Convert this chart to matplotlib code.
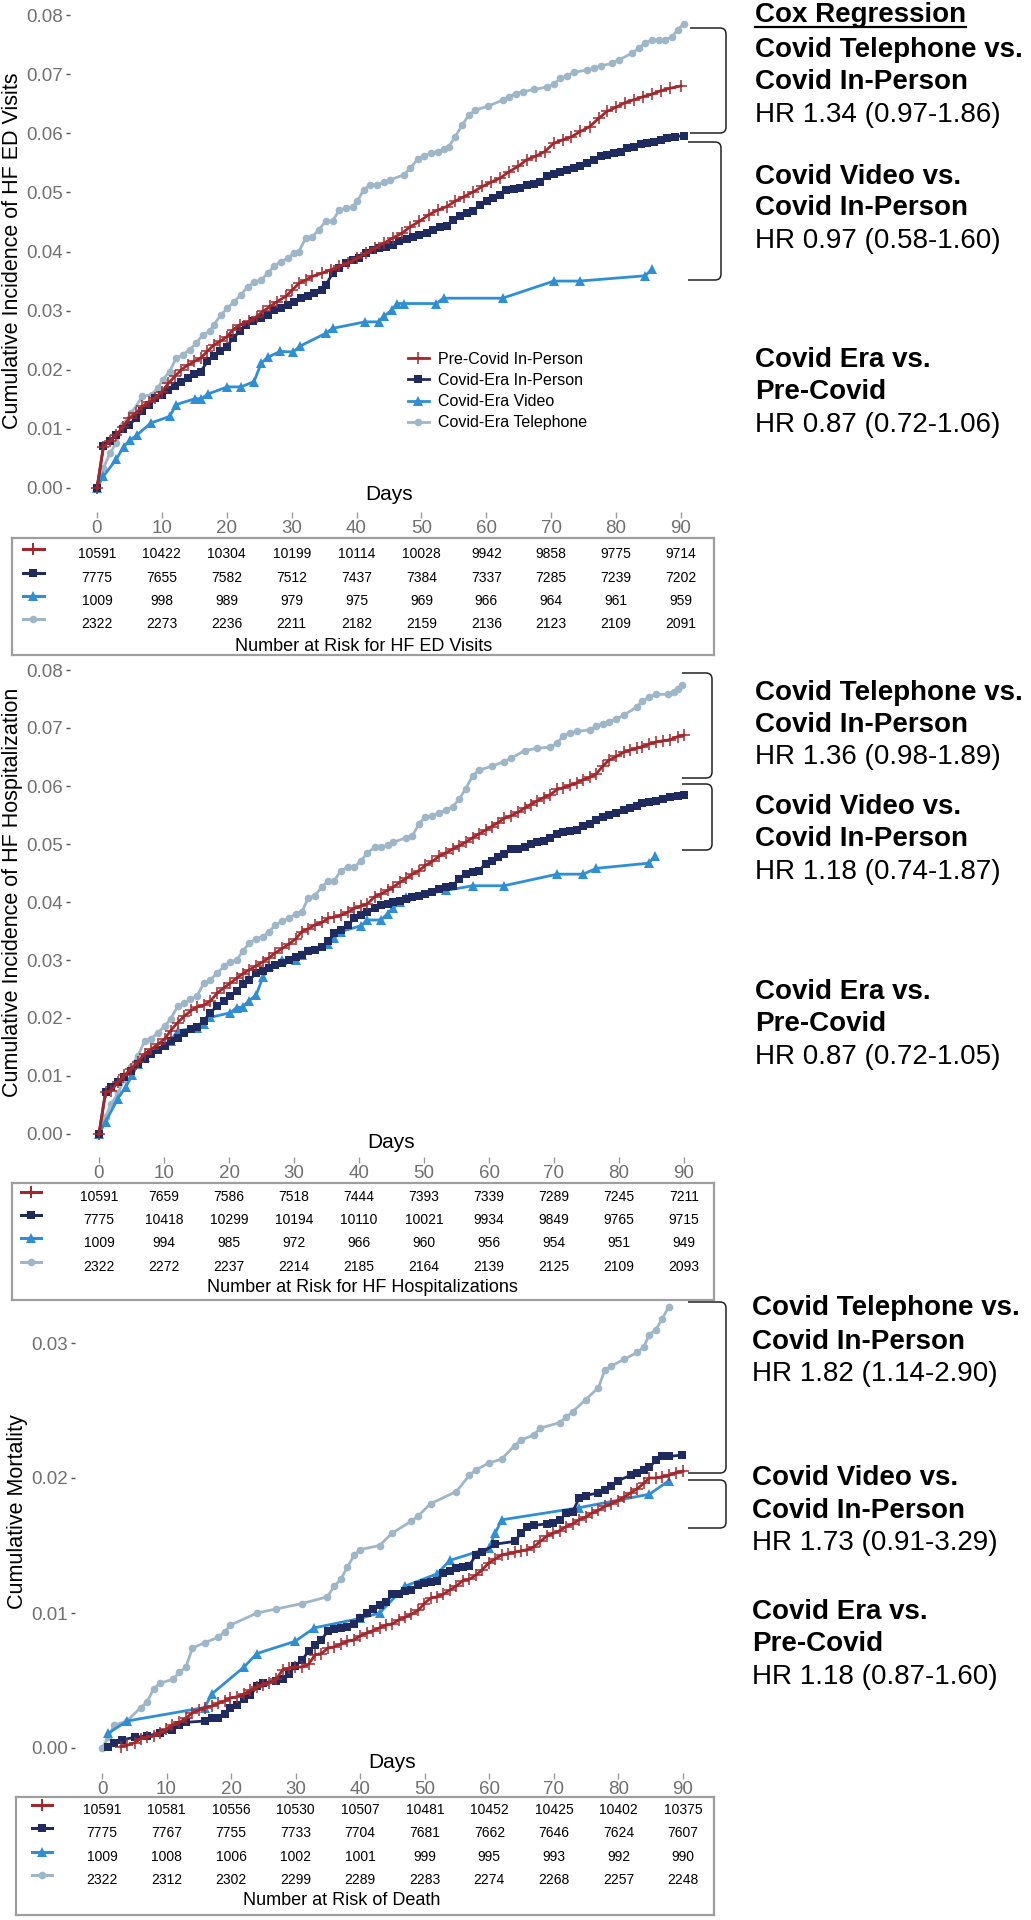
import matplotlib
matplotlib.use('Agg')
import matplotlib.pyplot as plt
from matplotlib.lines import Line2D
from matplotlib.path import Path
from matplotlib.patches import PathPatch

plt.rcParams['font.family'] = ['Liberation Sans', 'DejaVu Sans']

# ---------------- data (day, cumulative incidence) ----------------
# HF ED visits
ed_pre = [(0, 0), (1, .0070), (2, .0079), (3, .0090), (4, .0104), (5, .0118), (6, .0127), (7, .0138),
          (8, .0146), (9, .0152), (10, .0163), (11, .0177), (12, .0189), (13, .0200), (14, .0208),
          (15, .0214), (16, .0220), (17, .0231), (18, .0242), (19, .0248), (20, .0256), (21, .0268),
          (22, .0276), (23.5, .0282), (24.6, .0290), (25.6, .0299), (26.7, .0307), (27.7, .0315),
          (29.1, .0324), (30.1, .0335), (31.1, .0346), (32.2, .0352), (33.2, .0358), (34.6, .0363),
          (36, .0369), (37.3, .0375), (38.7, .0380), (40.1, .0389), (41.5, .0397), (42.8, .0406),
          (44.2, .0414), (45.6, .0423), (47, .0431), (48.3, .0442), (49.7, .0451), (51.1, .0462),
          (52.5, .0470), (53.9, .0476), (55.2, .0485), (56.6, .0493), (58, .0501), (59.4, .0510),
          (60.7, .0517), (62.1, .0524), (63.5, .0535), (64.9, .0544), (66.2, .0555), (67.6, .0561),
          (69, .0569), (70.4, .0583), (71.8, .0589), (73.1, .0594), (74.5, .0603), (75.9, .0611),
          (77.3, .0625), (78.6, .0637), (80, .0644), (81.4, .0652), (82.8, .0657), (84.2, .0662),
          (85.5, .0666), (86.9, .0672), (88.3, .0676), (90, .0680)]
ed_cip = [(0, 0), (1, .0071), (2, .0079), (3, .0090), (4, .0099), (5, .0107), (6, .0118), (7, .0130),
          (8, .0141), (9, .0152), (10, .0158), (11, .0166), (12, .0172), (13, .0180), (14, .0186),
          (15, .0192), (16, .0197), (17, .0214), (18, .0223), (19, .0231), (20, .0239), (21, .0254),
          (22, .0265), (23, .0276), (24, .0282), (25.3, .0287), (26.3, .0293), (27.3, .0301),
          (28.4, .0304), (29.4, .0310), (30.4, .0315), (31.5, .0321), (32.5, .0325), (33.5, .0330),
          (34.6, .0335), (35.3, .0344), (36.3, .0363), (37.3, .0372), (38.4, .0380), (39.4, .0386),
          (40.4, .0389), (41.5, .0397), (42.5, .0403), (43.5, .0406), (44.6, .0408), (45.6, .0411),
          (46.6, .0417), (47.7, .0421), (48.7, .0425), (49.7, .0428), (50.8, .0431), (51.8, .0437),
          (52.8, .0441), (53.9, .0443), (54.9, .0454), (55.9, .0460), (57, .0465), (58, .0469),
          (59, .0479), (60.1, .0485), (61.1, .0490), (62.1, .0496), (63.1, .0504), (64.2, .0506),
          (65.2, .0507), (66.2, .0513), (67.3, .0514), (68.3, .0518), (69.3, .0527), (70.4, .0531),
          (71.4, .0535), (72.4, .0538), (73.5, .0541), (74.5, .0545), (75.5, .0549), (76.6, .0555),
          (77.6, .0561), (78.6, .0563), (79.7, .0566), (80.7, .0569), (81.7, .0575), (82.8, .0577),
          (83.8, .0582), (84.8, .0584), (85.9, .0586), (86.9, .0589), (87.9, .0592), (89, .0594),
          (90.4, .0596)]
ed_video = [(0, 0), (1, .0020), (3, .0049), (4.1, .0070), (5.1, .0081), (6.2, .0090), (8.3, .0110),
            (11.2, .0121), (12.2, .0141), (15.1, .0151), (16.1, .0151), (17.1, .0159), (20.1, .0171),
            (22.2, .0171), (24.2, .0180), (25.3, .0211), (26.3, .0221), (28.2, .0231), (30.2, .0230),
            (31.3, .0240), (35.3, .0262), (36.3, .0270), (41.3, .0281), (43.4, .0281), (44.3, .0291),
            (45.4, .0301), (46.3, .0312), (47.3, .0312), (52.3, .0312), (53.4, .0321), (62.5, .0321),
            (70.4, .0350), (74.4, .0350), (84.5, .0359), (85.5, .0370)]
ed_tele = [(0, 0), (1, .0034), (2, .0059), (3, .0076), (4, .0107), (5.3, .0127), (7, .0155), (8.4, .0158),
           (9.4, .0169), (10.1, .0183), (11.2, .0197), (12.2, .0220), (13.2, .0225), (14.3, .0234),
           (15.3, .0245), (16.3, .0259), (17.4, .0265), (18, .0276), (19.1, .0293), (20.1, .0304),
           (21.1, .0315), (22.2, .0327), (23.2, .0340), (24.2, .0348), (25.3, .0352), (26.3, .0363),
           (27.3, .0375), (28.4, .0383), (29.4, .0389), (30.4, .0397), (31.1, .0400), (32.2, .0423),
           (33.2, .0425), (34.2, .0437), (35.3, .0452), (36.3, .0451), (37.3, .0470), (38.4, .0473),
           (39.4, .0476), (40.1, .0485), (41.1, .0504), (42.1, .0513), (43.2, .0513), (44.2, .0517),
           (45.2, .0521), (47.3, .0530), (48.3, .0541), (49.4, .0556), (50.4, .0562), (51.4, .0566),
           (52.5, .0569), (53.5, .0573), (54.2, .0577), (55.2, .0594), (56.3, .0614), (57.3, .0631),
           (58.3, .0639), (60.3, .0646), (62.5, .0656), (63.5, .0662), (64.5, .0667), (65.6, .0670),
           (67.3, .0674), (69.3, .0678), (70.4, .0683), (71.4, .0693), (72.4, .0697), (73.5, .0703),
           (75.5, .0707), (76.6, .0710), (77.6, .0714), (79.3, .0718), (80.4, .0724), (82.4, .0735),
           (83.5, .0744), (84.5, .0753), (85.5, .0758), (86.6, .0758), (87.6, .0758), (88.6, .0763),
           (89.5, .0775), (90.4, .0785)]

# HF hospitalization
hosp_pre = [(0, 0), (1, .0072), (1.9, .0075), (2.9, .0089), (3.9, .0101), (4.9, .0112), (6, .0124),
            (7, .0138), (8, .0146), (9.1, .0155), (10.1, .0164), (11, .0178), (12.1, .0192), (13.1, .0203),
            (14.2, .0213), (15.1, .0219), (16.1, .0222), (17.1, .0229), (18.2, .0243), (19.2, .0252),
            (20.2, .0260), (21.2, .0269), (22.1, .0276), (23.1, .0283), (24.2, .0290), (25.2, .0297),
            (26.2, .0304), (27.1, .0312), (28.2, .0320), (29.3, .0328), (30.3, .0337), (31.2, .0349),
            (32.2, .0354), (33.2, .0360), (34.3, .0365), (35.3, .0372), (36.2, .0374), (37.2, .0377),
            (38.3, .0383), (39.3, .0389), (40.3, .0393), (41.3, .0397), (42.4, .0409), (43.4, .0414),
            (44.4, .0420), (45.3, .0426), (46.3, .0434), (47.3, .0441), (48.2, .0448), (49.2, .0454),
            (50.2, .0463), (51.3, .0470), (52.3, .0479), (53.4, .0485), (54.4, .0491), (55.4, .0497),
            (56.4, .0503), (57.5, .0511), (58.4, .0517), (59.5, .0524), (60.4, .0530), (61.4, .0537),
            (62.3, .0544), (63.4, .0549), (64.5, .0555), (65.5, .0562), (66.4, .0568), (67.4, .0574),
            (68.4, .0580), (69.4, .0585), (70.5, .0594), (71.4, .0597), (72.5, .0601), (73.6, .0606),
            (74.5, .0611), (75.5, .0615), (76.5, .0621), (77.5, .0634), (78.4, .0644), (79.6, .0651),
            (80.7, .0658), (81.7, .0662), (82.7, .0665), (83.6, .0668), (84.6, .0672), (85.7, .0676),
            (86.8, .0678), (87.9, .0680), (89, .0685), (90, .0688)]
hosp_cip = [(0, 0), (1, .0072), (1.9, .0081), (2.9, .0089), (3.9, .0098), (4.9, .0108), (6, .0121),
            (7, .0129), (8, .0138), (9.1, .0144), (10.1, .0152), (11, .0161), (12.1, .0166), (13.1, .0175),
            (14.2, .0181), (15.1, .0185), (16.1, .0195), (17.1, .0209), (18.2, .0221), (19.2, .0229),
            (20.2, .0238), (21.2, .0246), (22.1, .0258), (23.1, .0266), (24.2, .0277), (25.2, .0281),
            (26.2, .0286), (27.1, .0292), (28.2, .0295), (29.3, .0300), (30.3, .0306), (31.2, .0309),
            (32.2, .0315), (33.2, .0317), (34.3, .0323), (35.3, .0332), (36.2, .0346), (37.2, .0352),
            (38.3, .0361), (39.3, .0372), (40.3, .0377), (41.3, .0383), (42.4, .0390), (43.4, .0394),
            (44.4, .0397), (45.3, .0400), (46.3, .0401), (47.3, .0406), (48.2, .0409), (49.2, .0411),
            (50.2, .0414), (51.3, .0417), (52.3, .0422), (53.4, .0426), (54.4, .0428), (55.4, .0440),
            (56.4, .0448), (57.5, .0451), (58.4, .0454), (59.5, .0466), (60.4, .0471), (61.4, .0477),
            (62.3, .0483), (63.4, .0491), (64.5, .0492), (65.5, .0494), (66.4, .0500), (67.4, .0503),
            (68.4, .0505), (69.4, .0511), (70.5, .0517), (71.4, .0520), (72.5, .0523), (73.6, .0525),
            (74.5, .0531), (75.5, .0534), (76.5, .0542), (77.5, .0547), (78.4, .0550), (79.6, .0554),
            (80.7, .0558), (81.7, .0562), (82.7, .0566), (83.6, .0570), (84.6, .0573), (85.7, .0575),
            (86.8, .0578), (87.9, .0581), (89, .0583), (90, .0585)]
hosp_video = [(0, 0), (1, .0021), (2.9, .0061), (4.1, .0081), (5.1, .0101), (6, .0121), (7, .0132),
              (11, .0161), (12.2, .0178), (15.1, .0183), (16.1, .0189), (17.1, .0201), (20.2, .0209),
              (21.2, .0218), (22.1, .0219), (23.1, .0230), (24.2, .0240), (25.2, .0270), (26.2, .0289),
              (28.2, .0300), (30.3, .0300), (31.2, .0309), (35.3, .0327), (36.2, .0338), (37.2, .0349),
              (40.3, .0359), (41.3, .0369), (43.4, .0369), (44.4, .0380), (45.3, .0390), (46.3, .0400),
              (47.3, .0409), (53.4, .0420), (57.5, .0428), (62.3, .0428), (70.5, .0448), (74.5, .0448),
              (76.5, .0458), (84.6, .0467), (85.6, .0480)]
hosp_tele = [(0, 0), (1, .0030), (1.9, .0052), (2.9, .0070), (3.9, .0095), (4.9, .0115), (6, .0135),
             (7, .0160), (8, .0164), (9.1, .0175), (10.1, .0186), (11, .0198), (12.1, .0220), (13.1, .0226),
             (14, .0232), (15.1, .0238), (16.1, .0260), (17.1, .0266), (18.2, .0277), (19.2, .0289),
             (20.2, .0297), (21.2, .0300), (22.1, .0315), (23.1, .0329), (24.2, .0337), (25.2, .0340),
             (26.2, .0349), (27.1, .0360), (28.2, .0367), (29.3, .0372), (30.3, .0380), (31.2, .0383),
             (32.2, .0407), (33.2, .0411), (34.3, .0426), (35.3, .0437), (36.2, .0437), (37.2, .0454),
             (38.3, .0460), (39.3, .0460), (40.3, .0471), (41.3, .0485), (42.4, .0494), (43.4, .0494),
             (44.4, .0498), (45.3, .0503), (47.3, .0511), (48.2, .0514), (49.2, .0534), (50.2, .0547),
             (51.3, .0549), (52.3, .0554), (53.4, .0558), (54.4, .0564), (55.4, .0577), (56.4, .0595),
             (57.5, .0618), (58.4, .0627), (60.4, .0634), (62.3, .0642), (63.4, .0648), (65.5, .0661),
             (67.4, .0665), (69.4, .0667), (70.5, .0674), (71.4, .0686), (72.5, .0692), (73.6, .0694),
             (75.5, .0697), (76.5, .0703), (77.5, .0707), (78.4, .0711), (79.6, .0715), (80.7, .0722),
             (82.7, .0736), (83.6, .0746), (84.6, .0753), (85.7, .0758), (87.5, .0758), (88.5, .0762),
             (89, .0768), (89.7, .0775)]

# mortality
mort_pre = [(2.9, .0001), (3.9, .0002), (5.1, .0004), (6, .0007), (7, .0008), (8, .0009), (9, .0011),
            (9.9, .0014), (10.9, .0017), (12, .0019), (13, .0022), (14, .0026), (15, .0028), (15.9, .0030),
            (17, .0031), (18, .0033), (19, .0035), (19.9, .0037), (20.9, .0038), (22, .0040), (23, .0043),
            (24, .0045), (24.9, .0047), (25.9, .0048), (27, .0051), (28, .0058), (29, .0059), (29.9, .0060),
            (31, .0060), (32, .0062), (33, .0069), (34, .0070), (35, .0074), (36, .0075), (37, .0077),
            (38, .0079), (39, .0080), (40, .0083), (41, .0085), (42, .0087), (43, .0089), (44, .0091),
            (45, .0092), (46, .0095), (47, .0097), (47.9, .0099), (49, .0102), (49.9, .0107), (50.9, .0111),
            (51.9, .0112), (52.9, .0114), (53.9, .0117), (54.9, .0120), (55.9, .0124), (56.9, .0125),
            (57.9, .0128), (58.9, .0132), (59.9, .0137), (60.9, .0140), (61.9, .0143), (62.9, .0144),
            (63.9, .0145), (64.9, .0146), (65.9, .0147), (66.9, .0149), (67.9, .0153), (68.9, .0157),
            (69.9, .0159), (70.9, .0161), (71.9, .0164), (72.9, .0166), (73.9, .0169), (74.9, .0171),
            (75.9, .0174), (76.9, .0176), (77.9, .0179), (78.9, .0181), (79.9, .0183), (80.9, .0186),
            (81.9, .0189), (82.9, .0192), (83.9, .0196), (84.8, .0200), (85.8, .0200), (86.8, .0201),
            (87.8, .0202), (88.9, .0204), (90, .0205)]
mort_cip = [(1, .0001), (1.9, .0004), (3.1, .0006), (5.1, .0008), (7, .0009), (9, .0011), (10.9, .0013),
            (12, .0017), (13, .0019), (15.9, .0020), (17, .0022), (18, .0022), (19, .0025), (19.9, .0030),
            (20.9, .0032), (22, .0036), (23, .0039), (24, .0046), (24.9, .0048), (27, .0050), (28, .0051),
            (29, .0055), (29.9, .0061), (31, .0065), (32, .0072), (33, .0076), (34, .0080), (35, .0087),
            (36, .0088), (37, .0089), (38, .0090), (39, .0092), (40, .0096), (41, .0100), (42, .0103),
            (43, .0106), (44, .0108), (45, .0114), (46, .0114), (47, .0116), (47.9, .0117), (49, .0121),
            (49.9, .0122), (50.9, .0123), (51.9, .0124), (52.9, .0130), (53.9, .0131), (54.9, .0133),
            (55.9, .0134), (56.9, .0135), (57.9, .0143), (58.9, .0145), (60.9, .0151), (63.9, .0153),
            (64.9, .0159), (65.9, .0164), (66.9, .0165), (69, .0166), (69.9, .0167), (70.9, .0169),
            (71.9, .0174), (72.9, .0175), (73.9, .0185), (74.9, .0187), (76.9, .0189), (77.9, .0191),
            (78.9, .0194), (79.9, .0198), (81.9, .0202), (82.9, .0204), (83.9, .0206), (84.8, .0208),
            (85.8, .0213), (86.8, .0216), (87.8, .0216), (89.9, .0217)]
mort_video = [(1, .0011), (3.9, .0020), (15.9, .0030), (17, .0040), (22, .0060), (24, .0070), (29.9, .0079),
              (32.9, .0089), (40, .0096), (43, .0100), (47, .0120), (51.9, .0129), (53.9, .0139),
              (59.9, .0148), (60.9, .0159), (61.9, .0169), (73.9, .0178), (84.8, .0188), (87.8, .0198)]
mort_tele = [(0, 0), (1, .0008), (1.9, .0017), (3.9, .0020), (6, .0030), (7, .0034), (8, .0044), (9, .0048),
             (11, .0051), (12, .0056), (13, .0060), (14, .0074), (15.9, .0078), (18, .0082), (19, .0086),
             (19.9, .0091), (24, .0100), (27, .0103), (31, .0107), (34.9, .0112), (36, .0120), (37, .0125),
             (38, .0134), (39.1, .0143), (40, .0147), (43, .0150), (44.9, .0159), (47.9, .0168), (49, .0172),
             (50.9, .0181), (54.9, .0190), (56.9, .0202), (57.9, .0206), (59.9, .0211), (61.9, .0214),
             (63.9, .0224), (64.9, .0228), (66.9, .0232), (67.9, .0237), (70.9, .0241), (71.9, .0245),
             (72.9, .0249), (74.9, .0258), (76.9, .0267), (77.9, .0280), (78.9, .0283), (80.9, .0288),
             (82.9, .0293), (83.9, .0297), (84.8, .0306), (85.8, .0310), (86.8, .0318), (87.8, .0327)]

# number at risk tables
risk_days = [0, 10, 20, 30, 40, 50, 60, 70, 80, 90]
ed_risk = {
    'pre': [10591, 10422, 10304, 10199, 10114, 10028, 9942, 9858, 9775, 9714],
    'cip': [7775, 7655, 7582, 7512, 7437, 7384, 7337, 7285, 7239, 7202],
    'video': [1009, 998, 989, 979, 975, 969, 966, 964, 961, 959],
    'tele': [2322, 2273, 2236, 2211, 2182, 2159, 2136, 2123, 2109, 2091],
}
hosp_risk = {
    'pre': [10591, 7659, 7586, 7518, 7444, 7393, 7339, 7289, 7245, 7211],
    'cip': [7775, 10418, 10299, 10194, 10110, 10021, 9934, 9849, 9765, 9715],
    'video': [1009, 994, 985, 972, 966, 960, 956, 954, 951, 949],
    'tele': [2322, 2272, 2237, 2214, 2185, 2164, 2139, 2125, 2109, 2093],
}
mort_risk = {
    'pre': [10591, 10581, 10556, 10530, 10507, 10481, 10452, 10425, 10402, 10375],
    'cip': [7775, 7767, 7755, 7733, 7704, 7681, 7662, 7646, 7624, 7607],
    'video': [1009, 1008, 1006, 1002, 1001, 999, 995, 993, 992, 990],
    'tele': [2322, 2312, 2302, 2299, 2289, 2283, 2274, 2268, 2257, 2248],
}

group_order = ['pre', 'cip', 'video', 'tele']
group_labels = {'pre': 'Pre-Covid In-Person', 'cip': 'Covid-Era In-Person',
                'video': 'Covid-Era Video', 'tele': 'Covid-Era Telephone'}

# ---------------- styles ----------------
STYLE = {
    'pre': dict(color='#A3282C', marker='+', ms=8, mew=1.1),
    'cip': dict(color='#1F2B5E', marker='s', ms=6.3, mew=0),
    'video': dict(color='#2F8FD4', marker='^', ms=6.5, mew=0),
    'tele': dict(color='#9DB7C8', marker='o', ms=5.5, mew=0),
}
TICK_GREY = '#707070'

W, H = 1031, 1920
fig = plt.figure(figsize=(W / 100, H / 100), dpi=100)


def fx(x):
    return x / W


def fy(y):
    return 1 - y / H


def add_panel(box, day0_px, day90_px, yref, curves, yticks, ylabel, ylabel_xy, days_y):
    """Plot one cumulative incidence panel, box given in pixels"""
    left, top, right, bottom = box
    ax = fig.add_axes([fx(left), fy(bottom), (right - left) / W, (bottom - top) / H])
    ppd = (day90_px - day0_px) / 90
    ax.set_xlim((left - day0_px) / ppd, (right - day0_px) / ppd)
    (v0, p0), (v1, p1) = yref
    ppv = (p0 - p1) / (v1 - v0)
    ax.set_ylim(v0 - (bottom - p0) / ppv, v0 + (p0 - top) / ppv)

    handles = {}
    for key in ['tele', 'video', 'cip', 'pre']:
        pts = curves[key]
        st = STYLE[key]
        h, = ax.plot([p[0] for p in pts], [p[1] for p in pts], color=st['color'], lw=2.0,
                     marker=st['marker'], ms=st['ms'], mew=st['mew'], mec=st['color'],
                     label=group_labels[key])
        handles[key] = h

    for s in ax.spines.values():
        s.set_visible(False)
    ax.set_yticks(yticks)
    ax.set_yticklabels(['%.2f' % t for t in yticks])
    ax.set_xticks(risk_days)
    ax.tick_params(axis='y', length=3, width=1, color='#555555', labelcolor=TICK_GREY,
                   labelsize=13.5, pad=2)
    ax.tick_params(axis='x', length=4, width=1, color='#999999', labelcolor=TICK_GREY,
                   labelsize=13.5, pad=2)
    ax.patch.set_alpha(0)

    ax.text(45, v0 + (p0 - days_y) / ppv, 'Days', ha='center', va='center', fontsize=15)
    fig.text(fx(ylabel_xy[0]), fy(ylabel_xy[1]), ylabel, rotation=90, ha='center', va='center',
             fontsize=15.5)
    return ax, handles


def add_table(box, day0_px, day90_px, rows_y, sym_x, counts, title, title_x, title_y):
    """Number at risk table drawn inside a grey box"""
    left, top, right, bottom = box
    ax = fig.add_axes([fx(left), fy(bottom), (right - left) / W, (bottom - top) / H])
    ppd = (day90_px - day0_px) / 90
    ax.set_xlim((left - day0_px) / ppd, (right - day0_px) / ppd)
    ax.set_ylim(bottom, top)
    ax.set_xticks([])
    ax.set_yticks([])
    for s in ax.spines.values():
        s.set_color('#9E9E9E')
        s.set_linewidth(1.6)

    sx = (sym_x - day0_px) / ppd
    half = 10 / ppd
    for key, y in zip(group_order, rows_y):
        for d, n in zip(risk_days, counts[key]):
            ax.text(d, y, str(n), ha='center', va='center', fontsize=10)
        st = STYLE[key]
        ax.plot([sx - half, sx, sx + half], [y - 5] * 3, color=st['color'], lw=2.2,
                marker=st['marker'], ms=st['ms'], mew=1.4 if key == 'pre' else 0,
                mec=st['color'], markevery=[1])
    ax.text((title_x - day0_px) / ppd, title_y, title, ha='center', va='center', fontsize=13)
    return ax


def bracket(x0, x1, y0, y1, r=6):
    """Right square bracket with rounded corners, in pixels"""
    verts = [(x0, y0), (x1 - r, y0), (x1, y0), (x1, y0 + r), (x1, y1 - r), (x1, y1), (x1 - r, y1), (x0, y1)]
    codes = [Path.MOVETO, Path.LINETO, Path.CURVE3, Path.CURVE3, Path.LINETO, Path.CURVE3, Path.CURVE3,
             Path.LINETO]
    path = Path([(fx(a), fy(b)) for a, b in verts], codes)
    fig.add_artist(PathPatch(path, facecolor='none', edgecolor='#222222', lw=1.1,
                             transform=fig.transFigure))


def annotate(x, lines):
    """Right hand Cox regression text, one entry per line"""
    out = []
    for y, txt, bold in lines:
        out.append(fig.text(fx(x), fy(y), txt, ha='left', va='center', fontsize=20,
                            fontweight='bold' if bold else 'normal'))
    return out


# ---------------- panels ----------------
ed_curves = {'pre': ed_pre, 'cip': ed_cip, 'video': ed_video, 'tele': ed_tele}
hosp_curves = {'pre': hosp_pre, 'cip': hosp_cip, 'video': hosp_video, 'tele': hosp_tele}
mort_curves = {'pre': mort_pre, 'cip': mort_cip, 'video': mort_video, 'tele': mort_tele}

ed_ticks = [0, .01, .02, .03, .04, .05, .06, .07, .08]
ax1, h1 = add_panel((70, 8, 695, 512), 97, 681, ((0, 488), (0.08, 15)), ed_curves, ed_ticks,
                    'Cumulative Incidence of HF ED Visits', (12.5, 251), 495)
ax1.legend([h1[k] for k in group_order], [group_labels[k] for k in group_order],
           loc='upper left', bbox_to_anchor=(fx(408), fy(352)), bbox_transform=fig.transFigure,
           frameon=False, fontsize=11.5, handlelength=1.3, handletextpad=0.6, labelspacing=0.38,
           borderpad=0, borderaxespad=0, numpoints=1)
add_table((12, 538, 714, 655), 97, 681, [554, 578, 601, 624], 33.5, ed_risk,
          'Number at Risk for HF ED Visits', 364, 647)

add_panel((70, 663, 695, 1157), 99, 684, ((0, 1134), (0.08, 670)), hosp_curves, ed_ticks,
          'Cumulative Incidence of HF Hospitalization', (12.5, 892), 1142)
add_table((12, 1183, 714, 1300), 99, 684, [1197, 1220, 1243, 1267], 31, hosp_risk,
          'Number at Risk for HF Hospitalizations', 362, 1287)

add_panel((75, 1298, 695, 1773), 102, 683, ((0, 1748), (0.03, 1343)), mort_curves,
          [0, .01, .02, .03], 'Cumulative Mortality', (18, 1512), 1763)
add_table((16, 1797, 714, 1915), 102, 683, [1810, 1833, 1857, 1880], 42, mort_risk,
          'Number at Risk of Death', 342, 1900)

# ---------------- Cox regression annotations ----------------
top_txt = annotate(755, [
    (15, 'Cox Regression', True),
    (50, 'Covid Telephone vs.', True), (82, 'Covid In-Person', True), (115, 'HR 1.34 (0.97-1.86)', False),
    (177, 'Covid Video vs.', True), (208, 'Covid In-Person', True), (241, 'HR 0.97 (0.58-1.60)', False),
    (360, 'Covid Era vs.', True), (392, 'Pre-Covid', True), (425, 'HR 0.87 (0.72-1.06)', False),
])
annotate(755, [
    (693, 'Covid Telephone vs.', True), (725, 'Covid In-Person', True), (757, 'HR 1.36 (0.98-1.89)', False),
    (807, 'Covid Video vs.', True), (839, 'Covid In-Person', True), (872, 'HR 1.18 (0.74-1.87)', False),
    (992, 'Covid Era vs.', True), (1024, 'Pre-Covid', True), (1057, 'HR 0.87 (0.72-1.05)', False),
])
annotate(752, [
    (1308, 'Covid Telephone vs.', True), (1342, 'Covid In-Person', True), (1374, 'HR 1.82 (1.14-2.90)', False),
    (1478, 'Covid Video vs.', True), (1511, 'Covid In-Person', True), (1543, 'HR 1.73 (0.91-3.29)', False),
    (1612, 'Covid Era vs.', True), (1644, 'Pre-Covid', True), (1677, 'HR 1.18 (0.87-1.60)', False),
])

bracket(690, 726, 28, 133)
bracket(688, 721, 142, 280)
bracket(682, 712, 673, 778)
bracket(682, 712, 784, 850)
bracket(688, 726, 1302, 1473)
bracket(688, 726, 1480, 1528)

# underline for the header
fig.canvas.draw()
bb = top_txt[0].get_window_extent()
fig.add_artist(Line2D([bb.x0 / W, bb.x1 / W], [(bb.y0 + 1) / H] * 2, color='black', lw=1.6,
                      transform=fig.transFigure))

fig.savefig('out.png', dpi=100, facecolor='white')
